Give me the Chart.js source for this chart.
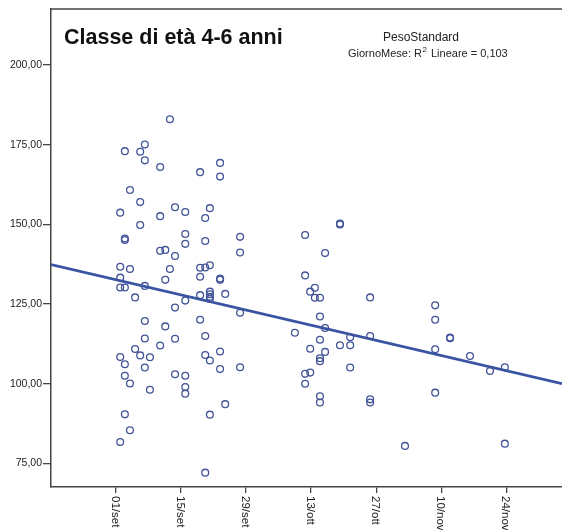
<!DOCTYPE html>
<html><head><meta charset="utf-8">
<script src="https://cdn.jsdelivr.net/npm/chart.js@4/dist/chart.umd.min.js"></script>
<style>html,body{margin:0;padding:0;background:#fff;}#wrap{width:562px;height:530px;}</style>
</head><body><div id="wrap"><canvas id="c" width="562" height="530"></canvas></div>
<script>
const titleText = 'Classe di età 4-6 anni';
const legendTitle = 'PesoStandard';
const legendParts = ['GiornoMese: R', '2', ' Lineare = 0,103'];
const xTickDays = [0, 14, 28, 42, 56, 70, 84];
const xTickLabels = ['01/set', '15/set', '29/set', '13/ott', '27/ott', '10/nov', '24/nov'];
const yTickValues = [75, 100, 125, 150, 175, 200];

// days after 01/set
const days = [
  0.9,0.9,0.9,0.9,0.9,0.9,
  1.9,1.9,1.9,1.9,1.9,1.9,1.9,
  3.0,3.0,3.0,3.0,
  4.1,4.1,
  5.2,5.2,5.2,5.2,
  6.2,6.2,6.2,6.2,6.2,6.2,
  7.3,7.3,
  9.5,9.5,9.5,9.5,
  10.6,10.6,10.6,
  11.6,11.6,
  12.7,12.7,12.7,12.7,12.7,
  14.9,14.9,14.9,14.9,14.9,14.9,14.9,
  18.1,18.1,18.1,18.1,18.1,
  19.2,19.2,19.2,19.2,19.2,19.2,
  20.2,20.2,20.2,20.2,20.2,20.2,20.2,20.2,
  22.4,22.4,22.4,22.4,22.4,22.4,
  23.5,23.5,
  26.7,26.7,26.7,26.7,
  38.5,
  40.7,40.7,40.7,40.7,
  41.8,41.8,41.8,
  42.8,42.8,
  43.9,43.9,43.9,43.9,43.9,43.9,43.9,
  45.0,45.0,45.0,
  48.2,48.2,48.2,
  50.4,50.4,50.4,
  54.7,54.7,54.7,54.7,
  62.2,
  68.7,68.7,68.7,68.7,
  71.9,71.9,
  76.2,
  80.5,
  83.7,83.7
];
const peso = [
  153.7,136.7,133.3,130.2,108.4,81.7,
  173.0,145.6,145.1,130.2,106.1,102.5,90.4,
  160.8,136.0,100.1,85.4,
  127.1,110.9,
  172.8,157.0,149.8,108.9,
  175.1,170.1,130.7,119.7,114.2,105.1,
  108.3,98.1,
  168.0,152.6,141.7,112.0,
  142.0,132.6,118.0,
  183.0,136.0,
  155.4,140.1,123.9,114.1,103.0,
  153.9,147.0,143.9,126.1,102.5,99.0,96.9,
  166.4,136.4,133.6,127.8,120.1,
  152.0,144.8,136.5,115.0,109.0,72.1,
  155.1,137.2,128.9,128.1,127.3,126.6,107.3,90.3,
  169.3,165.0,133.0,132.6,110.1,104.6,
  128.2,93.6,
  146.1,141.2,122.3,105.2,
  116.0,
  146.7,134.0,103.1,100.0,
  128.9,111.0,103.5,
  130.1,127.0,
  127.0,121.1,113.8,108.0,107.1,96.1,94.1,
  141.0,117.5,110.0,
  150.3,150.0,112.1,
  114.6,112.1,105.1,
  127.1,115.0,95.1,94.1,
  80.5,
  124.6,120.1,110.8,97.2,
  114.5,114.3,
  108.7,
  104.0,
  105.2,81.2
];
const fitDays = [-14, 96];
const fitValues = [137.4, 100.0];

const FONT = '"Liberation Sans", Arial, sans-serif';
const pts = days.map((d, i) => ({x: d, y: peso[i]}));
const fitPts = fitDays.map((d, i) => ({x: d, y: fitValues[i]}));

const decor = {
  id: 'decor',
  afterDraw(chart) {
    const ctx = chart.ctx;
    const a = chart.chartArea;
    const xs = chart.scales.x;
    ctx.save();
    // top frame
    ctx.strokeStyle = '#444';
    ctx.lineWidth = 1.5;
    ctx.beginPath();
    ctx.moveTo(a.left, a.top);
    ctx.lineTo(a.right, a.top);
    ctx.stroke();
    // title
    ctx.fillStyle = '#111';
    ctx.font = 'bold 21.5px ' + FONT;
    ctx.textAlign = 'left';
    ctx.textBaseline = 'alphabetic';
    ctx.fillText(titleText, 64, 44);
    // legend
    ctx.fillStyle = '#222';
    ctx.font = '12px ' + FONT;
    ctx.textAlign = 'center';
    ctx.fillText(legendTitle, 421, 41);
    ctx.textAlign = 'left';
    let x = 348;
    ctx.font = '11px ' + FONT;
    ctx.fillText(legendParts[0], x, 57);
    x += ctx.measureText(legendParts[0]).width + 0.5;
    ctx.font = '8px ' + FONT;
    ctx.fillText(legendParts[1], x, 52);
    x += ctx.measureText(legendParts[1]).width + 1;
    ctx.font = '11px ' + FONT;
    ctx.fillText(legendParts[2], x, 57);
    // x tick labels rotated (reading top to bottom)
    ctx.fillStyle = '#222';
    ctx.font = '11.5px ' + FONT;
    xTickDays.forEach((d, i) => {
      const px = xs.getPixelForValue(d);
      ctx.save();
      ctx.translate(px - 1, a.bottom + 9);
      ctx.rotate(Math.PI / 2);
      ctx.textAlign = 'left';
      ctx.textBaseline = 'middle';
      ctx.fillText(xTickLabels[i], 0, 0);
      ctx.restore();
    });
    ctx.restore();
  }
};

new Chart(document.getElementById('c'), {
  type: 'scatter',
  data: {
    datasets: [
      {
        data: pts,
        pointRadius: 3.4,
        pointHoverRadius: 3.4,
        borderWidth: 1.3,
        borderColor: 'rgb(66,84,152)',
        backgroundColor: 'rgba(0,0,0,0)',
        showLine: false
      },
      {
        type: 'line',
        data: fitPts,
        borderColor: 'rgb(58,84,164)',
        borderWidth: 2.8,
        pointRadius: 0,
        showLine: true,
        fill: false
      }
    ]
  },
  options: {
    responsive: false,
    animation: false,
    devicePixelRatio: 1,
    layout: {autoPadding: false, padding: {top: 9, left: 0, right: 0, bottom: 0}},
    plugins: {legend: {display: false}, tooltip: {enabled: false}},
    scales: {
      x: {
        type: 'linear',
        min: -14, max: 96,
        afterBuildTicks: s => { s.ticks = xTickDays.map(v => ({value: v})); },
        afterFit: s => { s.height = 43; },
        ticks: {display: false},
        grid: {drawOnChartArea: false, drawTicks: true, tickLength: 6, color: '#444', lineWidth: 1.3},
        border: {display: true, color: '#444', width: 1.5}
      },
      y: {
        min: 67.6, max: 217.6,
        afterBuildTicks: s => { s.ticks = yTickValues.map(v => ({value: v})); },
        afterFit: s => { s.width = 51; },
        ticks: {
          callback: v => v.toFixed(2).replace('.', ','),
          font: {family: FONT, size: 10.5},
          color: '#222',
          padding: 1
        },
        grid: {drawOnChartArea: false, drawTicks: true, tickLength: 8, color: '#444', lineWidth: 1.3},
        border: {display: true, color: '#444', width: 1.5}
      }
    }
  },
  plugins: [decor]
});
</script>
</body></html>
